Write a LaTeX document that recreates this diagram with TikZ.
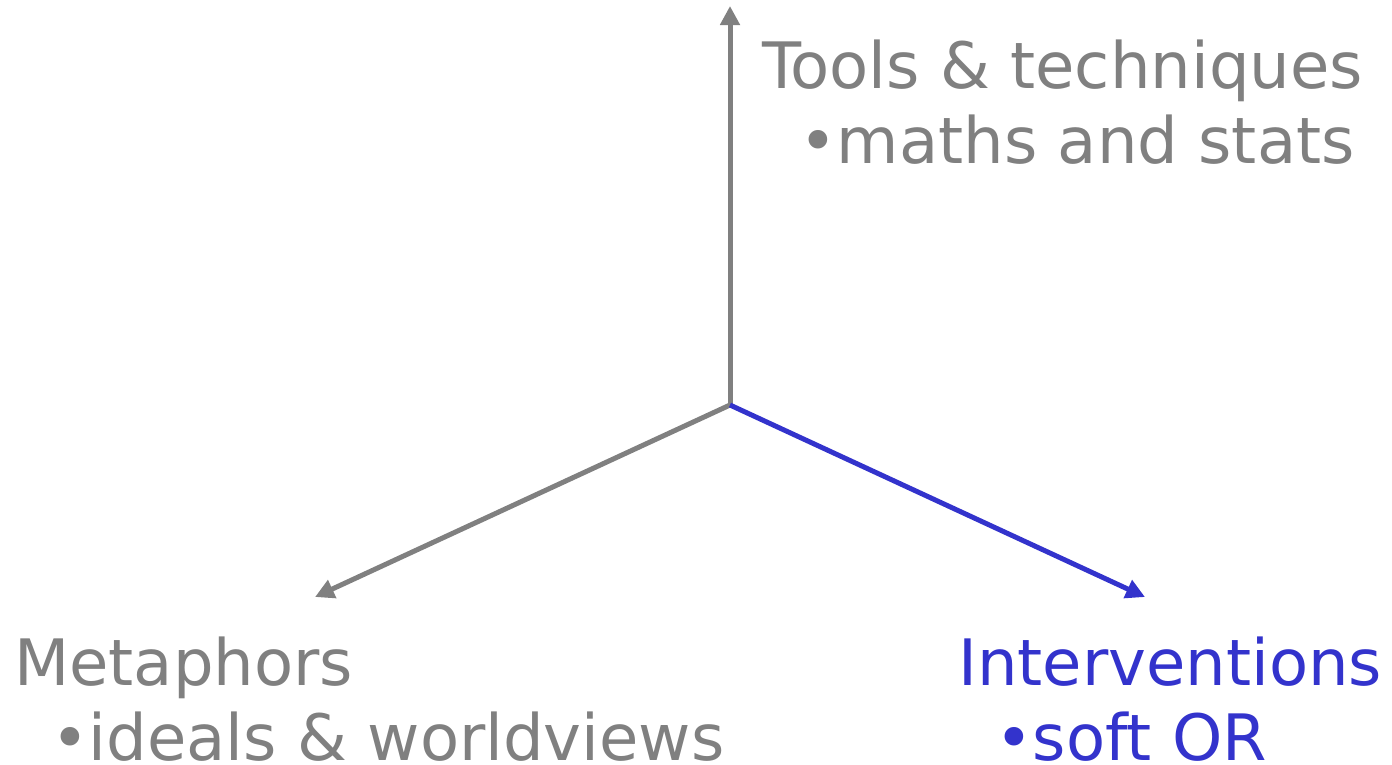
\documentclass[tikz,border=0pt]{standalone}
\usepackage{fontspec}
\setmainfont{DejaVu Sans}
\usetikzlibrary{arrows.meta}
\definecolor{axgray}{HTML}{808080}
\definecolor{axblue}{HTML}{3333CC}
\begin{document}
\begin{tikzpicture}[x=1pt,y=-1pt,
  axis/.style={line width=5pt,-{Triangle[length=19pt,width=19pt]}},
  lbl/.style={anchor=base west,inner sep=0pt,align=left,font=\fontsize{64}{75}\selectfont}]
\useasboundingbox (0,0) rectangle (1392,764);
\coordinate (o) at (730,405);
\coordinate (t) at (730,6);
\coordinate (l) at (315,597);
\coordinate (r) at (1145,597);
\draw[axis,axgray] (o) -- (t);
\draw[axis,axgray] (o) -- (l);
\draw[axis,axblue] (o) -- (r);
\node[lbl,text=axgray] (tools) at (762,163) {Tools \& techniques\\\hspace*{37pt}•maths and stats};
\node[lbl,text=axgray] (meta) at (14,760) {Metaphors\\\hspace*{37pt}•ideals \& worldviews};
\node[lbl,text=axblue] (inter) at (958,760) {Interventions\\\hspace*{37pt}•soft OR};
\end{tikzpicture}
\end{document}
